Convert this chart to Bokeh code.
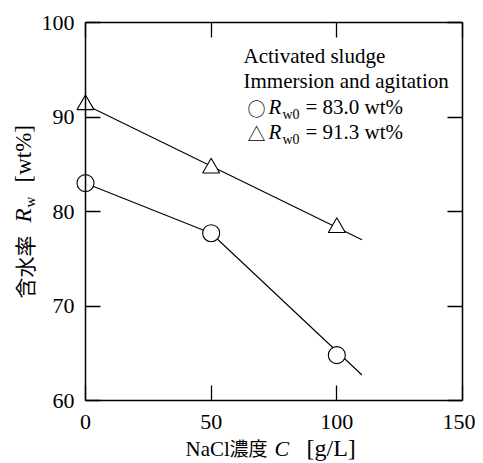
import math
from bokeh.plotting import figure
from bokeh.models import Range1d, LinearAxis, FixedTicker, Label
from bokeh.embed import file_html
from bokeh.resources import INLINE

# ---- data ----
conc = [0, 50, 100]                 # NaCl concentration C [g/L]
rw_circle = [83.0, 77.7, 64.8]      # R_w0 = 83.0 wt%
rw_tri = [91.3, 84.6, 78.3]         # R_w0 = 91.3 wt%
fit_circle_x = [0, 50, 110]
fit_circle_y = [83.0, 77.7, 62.7]
fit_tri_x = [0, 110]
fit_tri_y = [91.3, 77.0]
x_ticks = [0, 50, 100, 150]
y_ticks = [60, 70, 80, 90, 100]
XMIN, XMAX, YMIN, YMAX = 0, 150, 60, 100

SERIF = "Liberation Serif"
CJK = "Noto Sans CJK JP"

# layout (canvas pixels): plot box position inside the canvas
W, H = 475, 462
FL, FT, FW, FH = 85, 22, 377, 378
sx = FW / (XMAX - XMIN)
sy = FH / (YMAX - YMIN)
x_range = Range1d(XMIN - FL / sx, XMAX + (W - FL - FW) / sx)
y_range = Range1d(YMIN - (H - FT - FH) / sy, YMAX + FT / sy)


def dx(px):
    return XMIN + (px - FL) / sx


def dy(py):
    return YMAX - (py - FT) / sy


p = figure(width=W, height=H, output_backend="svg", toolbar_location=None,
           x_range=x_range, y_range=y_range,
           min_border=0, min_border_left=0, min_border_right=0,
           min_border_top=0, min_border_bottom=0,
           x_axis_location=None, y_axis_location=None)
p.xgrid.visible = False
p.ygrid.visible = False
p.outline_line_color = None
p.background_fill_color = "white"
p.border_fill_color = "white"


def make_axis(loc, ticks, fixed, bounds, show_labels, standoff):
    ax = LinearAxis(fixed_location=fixed, bounds=bounds)
    ax.ticker = FixedTicker(ticks=ticks)
    ax.minor_tick_line_color = None
    ax.major_tick_in = 15
    ax.major_tick_out = 0
    ax.major_tick_line_color = "black"
    ax.major_tick_line_width = 1.3
    ax.axis_line_color = "black"
    ax.axis_line_width = 1.5
    ax.major_label_text_font = SERIF
    ax.major_label_text_font_size = "22px"
    ax.major_label_standoff = standoff
    ax.major_label_text_color = "black" if show_labels else None
    p.add_layout(ax, loc)


make_axis("below", x_ticks, YMIN, (XMIN, XMAX), True, 14)
make_axis("above", x_ticks, YMAX, (XMIN, XMAX), False, 9)
make_axis("left", y_ticks, XMIN, (YMIN, YMAX), True, 11)
make_axis("right", y_ticks, XMAX, (YMIN, YMAX), False, 9)

# lines
p.line(fit_circle_x, fit_circle_y, line_color="black", line_width=1.1)
p.line(fit_tri_x, fit_tri_y, line_color="black", line_width=1.1)
# markers
p.scatter(conc, rw_circle, marker="circle", size=17, fill_color="white",
          line_color="black", line_width=1.1)
p.scatter(conc, rw_tri, marker="triangle", size=17, fill_color="white",
          line_color="black", line_width=1.1)


def lab(px, py, text, font=SERIF, size=21, style="normal", rotated=False):
    off = 0.36 * size  # compensate the renderer's baseline placement
    if rotated:
        px, py, angle = px - off, py, math.pi / 2
    else:
        px, py, angle = px, py - off, 0.0
    p.add_layout(Label(x=dx(px), y=dy(py), text=text, text_font=font,
                       text_font_size=f"{size}px", text_font_style=style,
                       text_color="black", text_align="left",
                       text_baseline="alphabetic", angle=angle))


# legend block
lab(243, 63, "Activated sludge")
lab(243, 88, "Immersion and agitation")
for base, sym, val in [(114, "○", "= 83.0 wt%"), (139, "△", "= 91.3 wt%")]:
    lab(247, base, sym, font=CJK, size=18)
    lab(268, base, "R", style="italic")
    lab(282, base + 5, "w0", size=14)
    lab(305, base, val)

# x-axis title
lab(185, 456, "NaCl", size=21)
lab(229, 454, "濃度", font=CJK, size=19)
lab(274, 456, "C", size=22, style="italic")
lab(306, 456, "[g/L]", size=24)

# y-axis title (rotated, reads bottom to top)
lab(31, 298, "含水率", font=CJK, size=21, rotated=True)
lab(31, 222, "R", size=23, style="italic", rotated=True)
lab(35, 207, "w", size=15, rotated=True)
lab(31, 182, "[wt%]", size=23, rotated=True)

open("out.html", "w").write(file_html(p, INLINE))
